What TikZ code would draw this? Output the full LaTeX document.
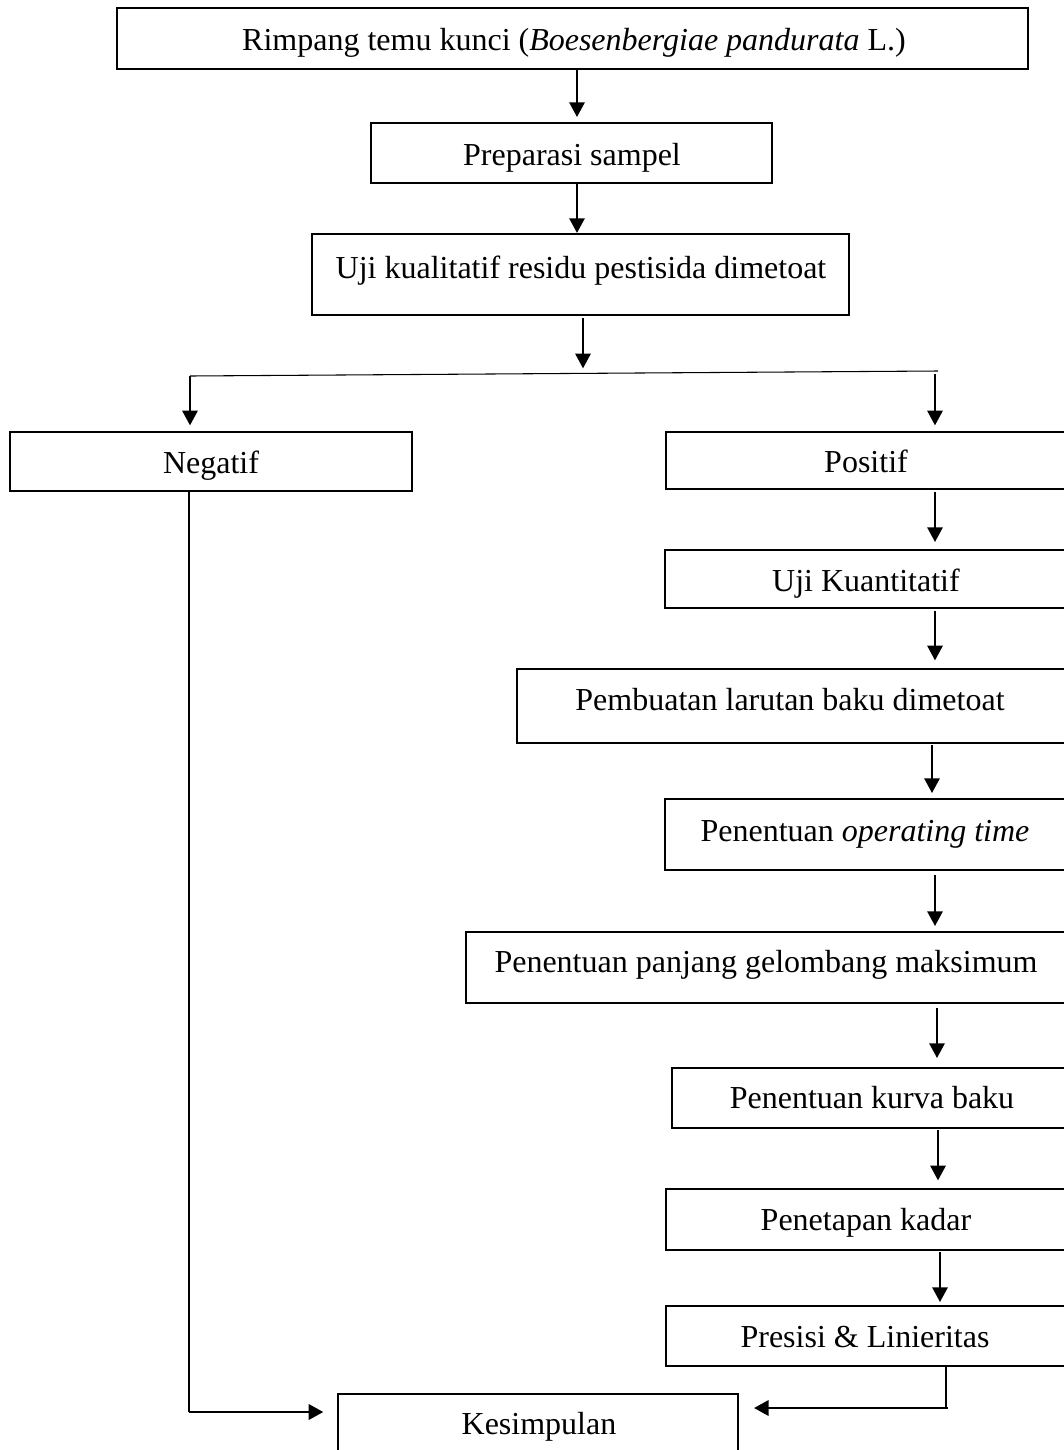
\documentclass[tikz,border=0pt]{standalone}
\usepackage{fontspec}
\setmainfont{Liberation Serif}
\usetikzlibrary{arrows.meta}
\begin{document}
\begin{tikzpicture}[x=0.75pt,y=-0.75pt,
  boxst/.style={draw=black,line width=1.5pt,rectangle,inner sep=0pt,outer sep=0pt,anchor=north west},
  lbl/.style={anchor=base,inner sep=0pt,font=\fontsize{24}{28}\selectfont},
  arr/.style={line width=1.4pt,-{Triangle[length=11pt,width=11.5pt]}},
  harr/.style={line width=2pt,-{Triangle[length=11pt,width=11.5pt]}},
  thin/.style={line width=0.8pt}]
\useasboundingbox (0,0) rectangle (1064,1450);
\clip (0,0) rectangle (1064,1450);
\newcommand{\bx}[5]{\node[boxst,minimum width={(#4-#2)*0.75pt},minimum height={(#5-#3)*0.75pt}] (#1) at (#2,#3) {};}
% boxes
\bx{b1}{117}{8}{1028}{69}
\bx{b2}{371}{123}{772}{183}
\bx{b3}{312}{234}{849}{315}
\bx{neg}{10}{432}{412}{491}
\bx{pos}{666}{432}{1080}{489}
\bx{kuan}{665}{550}{1080}{608}
\bx{pemb}{517}{669}{1080}{743}
\bx{op}{665}{799}{1080}{870}
\bx{panj}{466}{932}{1080}{1003}
\bx{kurva}{672}{1068}{1080}{1128}
\bx{pene}{666}{1189}{1080}{1250}
\bx{pres}{666}{1306}{1080}{1366}
\bx{kes}{338}{1394}{738}{1470}
% labels
\node[lbl] (t1) at (574,50) {Rimpang temu kunci (\textit{Boesenbergiae pandurata} L.)};
\node[lbl] (t2) at (572,165) {Preparasi sampel};
\node[lbl] (t3) at (581,278) {Uji kualitatif residu pestisida dimetoat};
\node[lbl] (tneg) at (211,473) {Negatif};
\node[lbl] (tpos) at (866,472) {Positif};
\node[lbl] (tkuan) at (866,591) {Uji Kuantitatif};
\node[lbl] (tpemb) at (790,710) {Pembuatan larutan baku dimetoat};
\node[lbl] (top) at (865,841) {Penentuan \textit{operating time}};
\node[lbl] (tpanj) at (766,972) {Penentuan panjang gelombang maksimum};
\node[lbl] (tkurva) at (872,1108) {Penentuan kurva baku};
\node[lbl] (tpene) at (866,1230) {Penetapan kadar};
\node[lbl] (tpres) at (865,1347) {Presisi \& Linieritas};
\node[lbl] (tkes) at (539,1434) {Kesimpulan};
% junction coordinates
\coordinate (jl) at (190,376);
\coordinate (jr) at (938,371);
\coordinate (jm) at (583,373);
\coordinate (jr2) at (935,374);
\coordinate (kl) at (189,1412);
\coordinate (kr) at (946,1408);
% connectors
\draw[arr,shorten >=4.5pt] (b1.south -| 577,0) -- (b2.north -| 577,0);
\draw[arr,shorten >=0.8pt] (b2.south -| 577,0) -- (b3.north -| 577,0);
\draw[arr,shorten <=2pt,shorten >=3.5pt] (b3.south -| jm) -- (jm);
\draw[thin] (jl) -- (jr);
\draw[arr,shorten >=5pt] (jl) -- (neg.north -| jl);
\draw[arr,shorten >=5pt] (jr2) -- (pos.north -| jr2);
\draw[arr,shorten <=2pt,shorten >=6pt] (pos.south -| 935,0) -- (kuan.north -| 935,0);
\draw[arr,shorten <=2pt,shorten >=6.5pt] (kuan.south -| 935,0) -- (pemb.north -| 935,0);
\draw[arr,shorten <=1.5pt,shorten >=4.5pt] (pemb.south -| 932,0) -- (op.north -| 932,0);
\draw[arr,shorten <=4pt,shorten >=4.5pt] (op.south -| 935,0) -- (panj.north -| 935,0);
\draw[arr,shorten <=4pt,shorten >=7.5pt] (panj.south -| 937,0) -- (kurva.north -| 937,0);
\draw[arr,shorten <=1.5pt,shorten >=6.5pt] (kurva.south -| 938,0) -- (pene.north -| 938,0);
\draw[arr,shorten <=1.5pt,shorten >=3pt] (pene.south -| 940,0) -- (pres.north -| 940,0);
\draw[thin] (neg.south -| kl) -- (kl);
\draw[harr,shorten >=11pt] (kl) -- (kes.west |- kl);
\draw[thin] (pres.south -| kr) -- (kr);
\draw[harr,shorten >=12pt] ([xshift=1.5pt]kr) -- (kes.east |- kr);
\end{tikzpicture}
\end{document}
